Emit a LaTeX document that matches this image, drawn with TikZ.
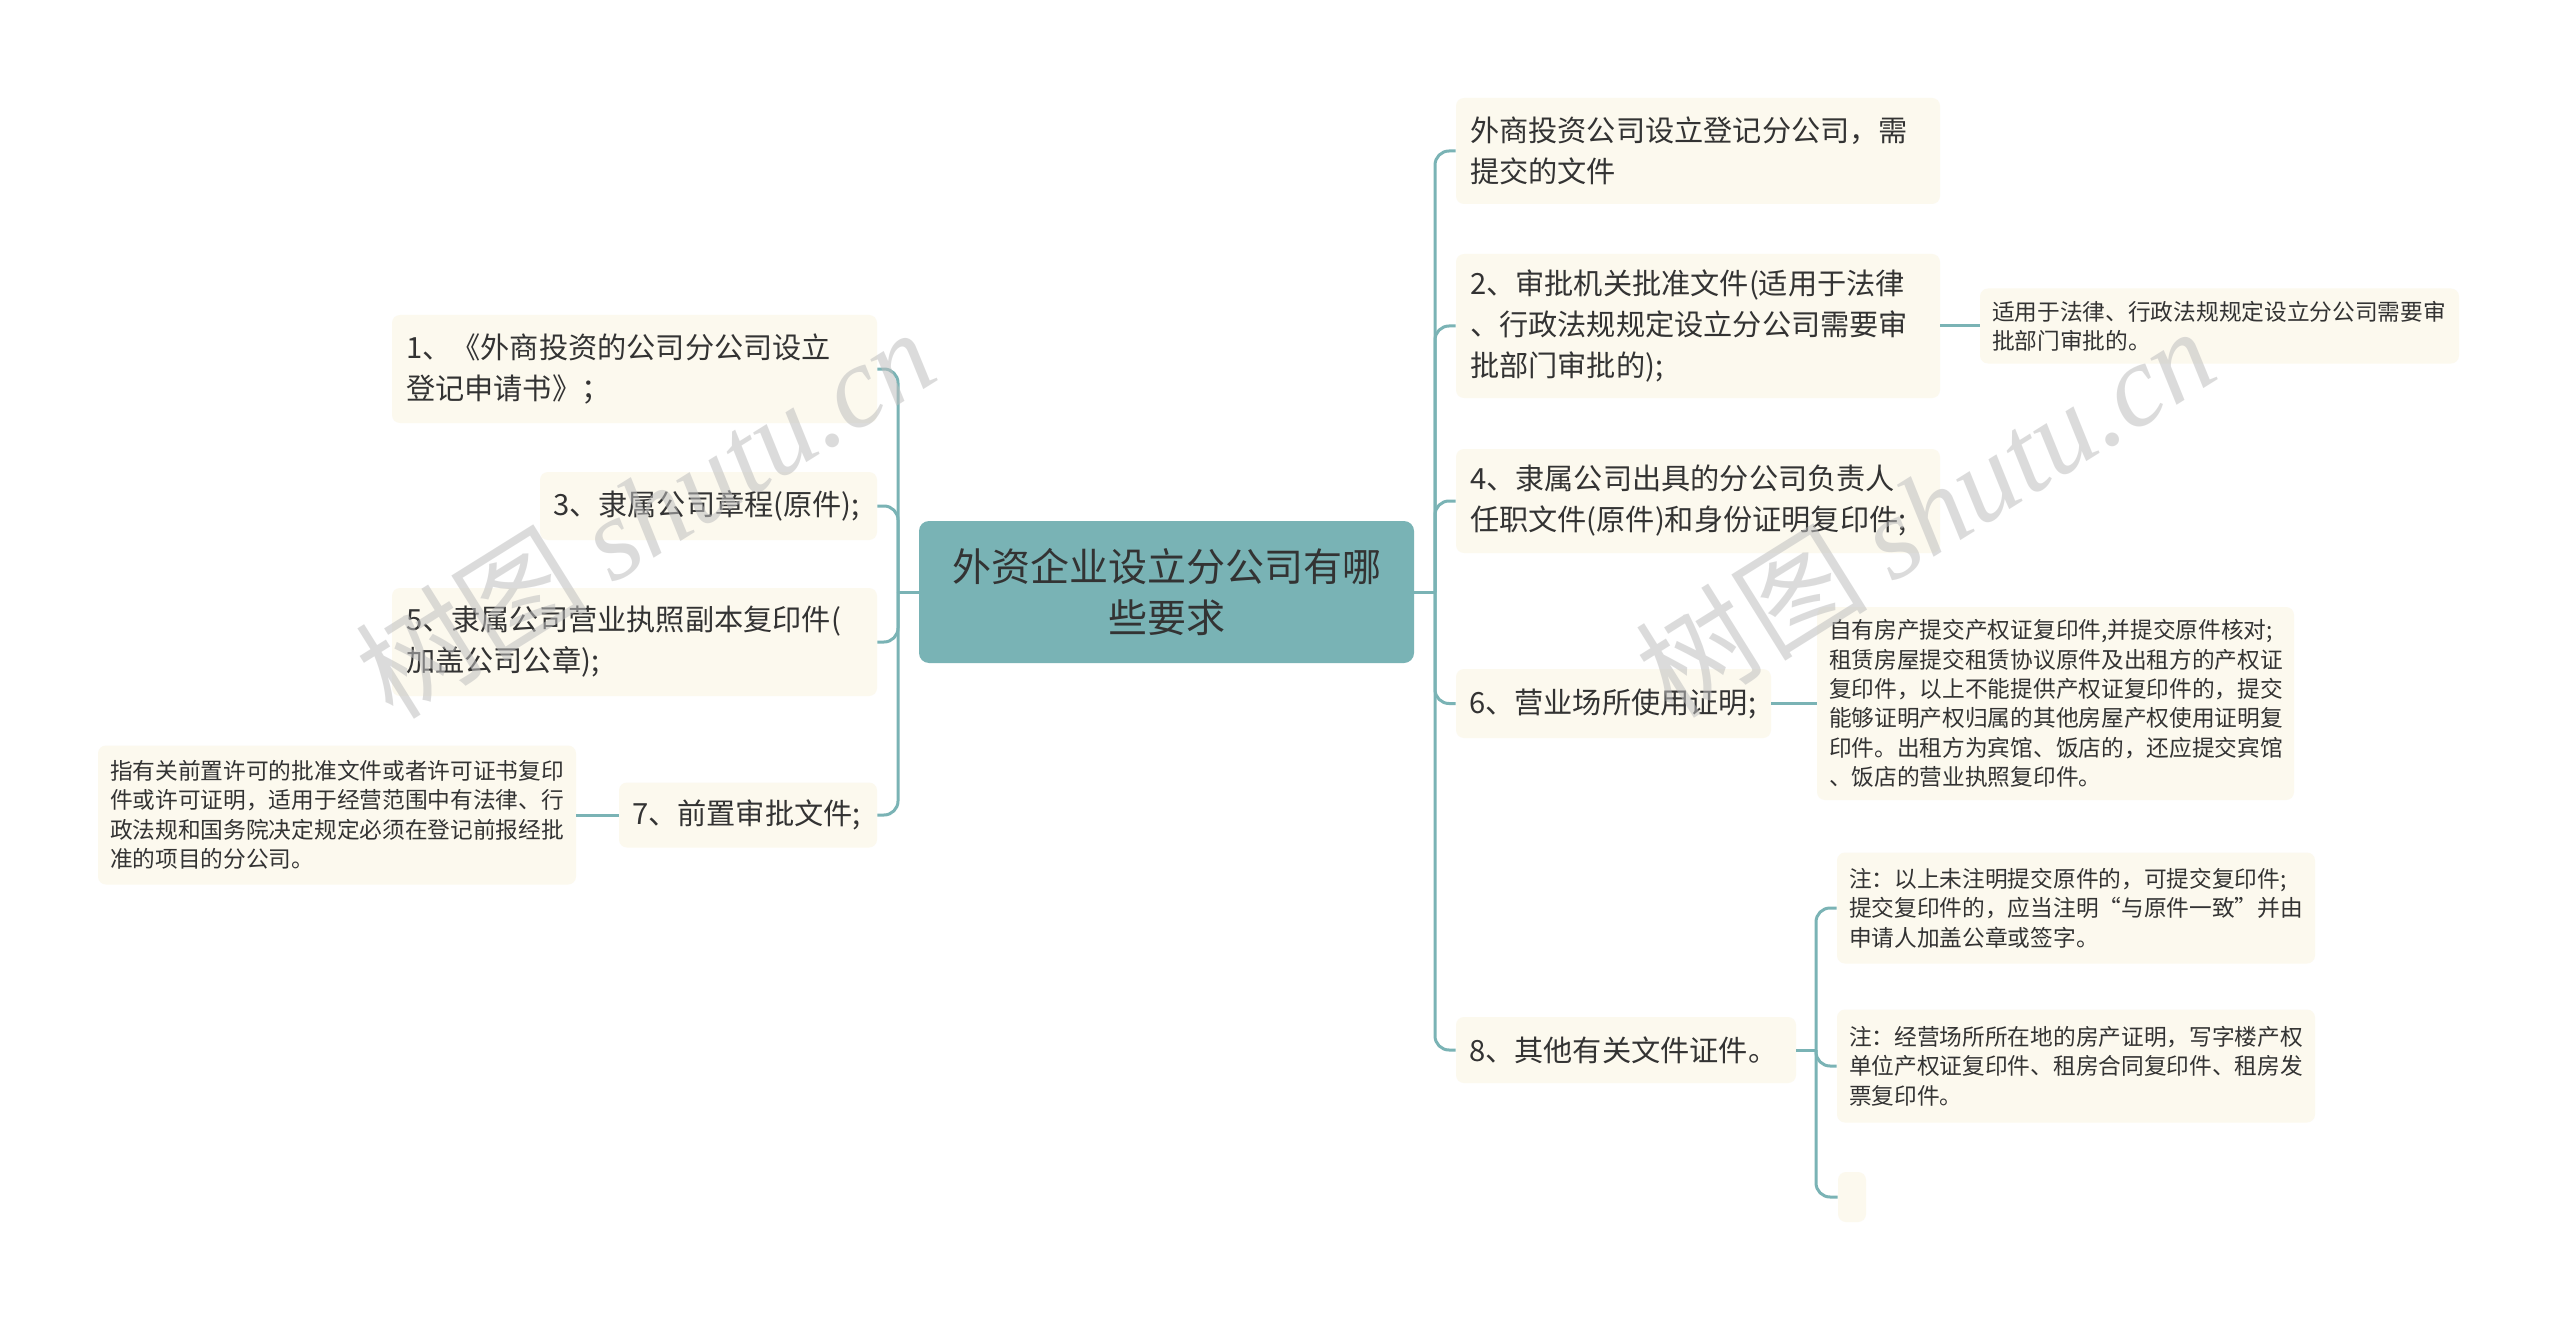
\documentclass[tikz,border=0pt]{standalone}
\usepackage{fontspec}
\setmainfont{Noto Sans CJK SC}
\newfontfamily\wmfont{Liberation Serif}
\definecolor{linecol}{HTML}{7AB3B5}
\definecolor{rootfill}{HTML}{79B3B5}
\definecolor{boxfill}{HTML}{FCF9EE}
\definecolor{txt}{HTML}{333333}
\begin{document}
\begin{tikzpicture}[x=0.5pt,y=-0.5pt,
  topic/.style={fill=boxfill,rounded corners=4pt,text=txt,align=left,inner xsep=7pt,inner ysep=2pt,font=\fontsize{14.6pt}{20.5pt}\selectfont},
  single/.style={topic,inner xsep=6.5pt},
  note/.style={topic,inner xsep=6pt,font=\fontsize{11.35pt}{14.7pt}\selectfont},
  link/.style={draw=linecol,line width=1.5pt,rounded corners=7pt},
  wmark/.style={rotate=32,text=gray!50,text opacity=.55,font=\fontsize{58pt}{58pt}\selectfont}]
\useasboundingbox (0,0) rectangle (2560,1321);
\fill[white] (0,0) rectangle (2560,1321);

\node[fill=rootfill,rounded corners=5pt,text=txt,align=center,minimum width=247.5pt,minimum height=71pt,font=\fontsize{19.5pt}{25.3pt}\selectfont] (root) at (1166.5,592) {外资企业设立分公司有哪\\些要求};

\node[topic,text width=228.5pt,minimum height=54pt] (l1) at (634.5,369) {1、《外商投资的公司分公司设立\\登记申请书》；};
\node[single,text width=155.5pt,minimum height=34pt] (l3) at (708.5,506) {3、隶属公司章程(原件);};
\node[topic,text width=228.5pt,minimum height=54pt] (l5) at (634.5,642) {5、隶属公司营业执照副本复印件(\\加盖公司公章);};
\node[single,text width=116pt,minimum height=32.5pt] (l7) at (748,815) {7、前置审批文件;};
\node[note,text width=227pt,minimum height=69.5pt] (l7c) at (337,815) {指有关前置许可的批准文件或者许可证书复印\\件或许可证明，适用于经营范围中有法律、行\\政法规和国务院决定规定必须在登记前报经批\\准的项目的分公司。};

\node[topic,text width=228pt,minimum height=53pt] (r0) at (1698,151) {外商投资公司设立登记分公司，需\\提交的文件};
\node[topic,text width=228pt,minimum height=72pt] (r2) at (1698,326) {2、审批机关批准文件(适用于法律\\、行政法规规定设立分公司需要审\\批部门审批的);};
\node[note,text width=227.5pt,minimum height=37.5pt] (r2c) at (2219.5,326) {适用于法律、行政法规规定设立分公司需要审\\批部门审批的。};
\node[topic,text width=228pt,minimum height=52pt] (r4) at (1698,501) {4、隶属公司出具的分公司负责人\\任职文件(原件)和身份证明复印件;};
\node[single,text width=144.5pt,minimum height=34.5pt] (r6) at (1613.5,703.5) {6、营业场所使用证明;};
\node[note,text width=226.5pt,minimum height=96.5pt] (r6c) at (2055.5,703.5) {自有房产提交产权证复印件,并提交原件核对;\\租赁房屋提交租赁协议原件及出租方的产权证\\复印件，以上不能提供产权证复印件的，提交\\能够证明产权归属的其他房屋产权使用证明复\\印件。出租方为宾馆、饭店的，还应提交宾馆\\、饭店的营业执照复印件。};
\node[single,text width=157pt,minimum height=33pt] (r8) at (1626,1050) {8、其他有关文件证件。};
\node[note,text width=227pt,minimum height=55.5pt] (n1) at (2076,908) {注：以上未注明提交原件的，可提交复印件;\\提交复印件的，应当注明“与原件一致”并由\\申请人加盖公章或签字。};
\node[note,text width=227pt,minimum height=56.5pt] (n2) at (2076,1066) {注：经营场所所在地的房产证明，写字楼产权\\单位产权证复印件、租房合同复印件、租房发\\票复印件。};
\node[fill=boxfill,rounded corners=4pt,inner sep=0pt,minimum width=14pt,minimum height=25pt] (n3) at (1852,1197) {};

\coordinate (jl) at (898,592);
\coordinate (jr) at (1435,592);
\coordinate (j8) at (1816,1050);
\draw[link] (root.west) -- (jl);
\foreach \n in {l1,l3,l5,l7} \draw[link] (jl) |- (\n.east);
\draw[link] (root.east) -- (jr);
\foreach \n in {r0,r2,r4,r6,r8} \draw[link] (jr) |- (\n.west);
\draw[link] (l7.west) -- (l7c.east);
\draw[link] (r2.east) -- (r2c.west);
\draw[link] (r6.east) -- (r6c.west);
\draw[link] (r8.east) -- (j8);
\foreach \n in {n1,n2,n3} \draw[link] (j8) |- (\n.west);

\node[wmark] (wm1) at (645,512) {树图 {\wmfont\itshape shutu.cn}};
\node[wmark] (wm2) at (1925,511) {树图 {\wmfont\itshape shutu.cn}};
\end{tikzpicture}
\end{document}
